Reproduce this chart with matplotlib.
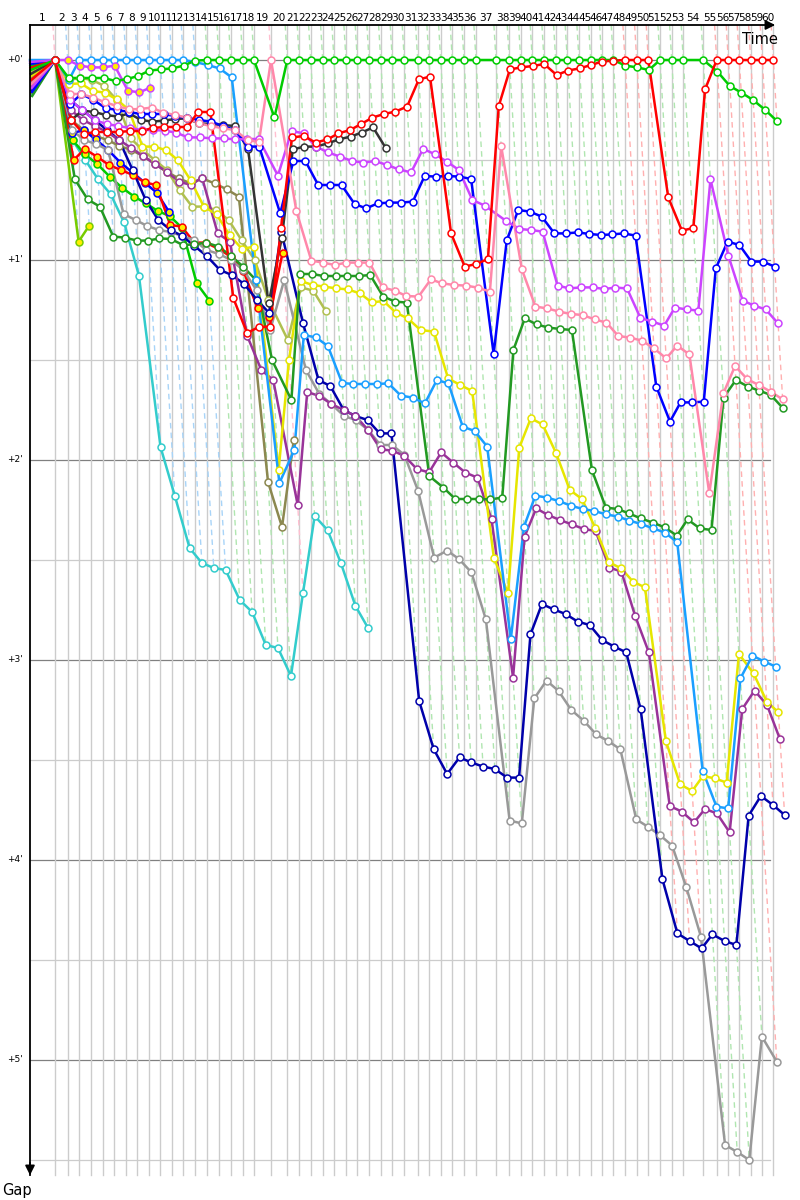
import numpy as np
import matplotlib
matplotlib.use('Agg')
import matplotlib.pyplot as plt

# leader lap times (s), laps 1..60
lap_sec = [125, 63.5, 58, 58.5, 58.5, 58, 58.5, 56.5, 57, 58, 57, 58, 58.5, 61.5, 58.5,
           58.5, 60, 56.5, 85, 81.5, 60, 57, 60, 56.5, 60, 56.5, 58.5, 58.5, 58, 60,
           67, 56.5, 58.5, 58, 58.5, 60, 100, 66.5, 57, 58, 58.5, 58.5, 58, 58.5, 58.5,
           55, 58, 58.5, 58.5, 58, 58.5, 58.5, 58, 100, 67, 58, 55, 57, 58, 55]

# who led each lap (colour of the lap line)
lap_leader = (['pink'] + ['lightblue'] * 12 + ['green'] * 5 + ['pink'] + ['green'] * 28
              + ['red'] * 3 + ['green'] * 4 + ['red'] * 6)

# gap to leader (minutes) per lap, lap 0 = start
red = [.10, 0, .30, .37, .36, .36, .36, .355, .355, .34, .335, .335, .335, .26, .26, 1.19, 1.365,
       1.335, 1.333, .84, .387, .38, .413, .397, .367, .35, .32, .288, .27, .258, .233, .097, .083,
       .867, 1.033, 1.02, .995, .23, .047, .037, .03, .02, .075, .053, .042, .025, .008, .003,
       0, 0, 0, .687, .853, .84, .147, 0, 0, 0, 0, 0, 0]
green = [.05, 0, .09, .09, .09, .09, .105, .095, .08, .053, .047, .042, .028, .003, 0, 0, 0, 0, 0,
         .287] + [0] * 28 + [.028, .037, .05, 0, 0, 0, 0, .058, .13, .163, .2, .25, .305]
lightblue = [0, 0, .1, 0, 0, 0, 0, 0, 0, 0, 0, 0, 0, .01, .025, .042, .087, 1.1, 2.115, 1.95,
             1.375, 1.387, 1.43, 1.615, 1.62, 1.62, 1.62, 1.617, 1.678, 1.688, 1.717, 1.6, 1.617,
             1.833, 1.855, 1.933, 2.897, 2.333, 2.178, 2.188, 2.205, 2.228, 2.245, 2.255, 2.272,
             2.283, 2.303, 2.32, 2.342, 2.363, 2.412, 3.553, 3.733, 3.742, 3.092, 2.978, 3.008, 3.033]
pink = [.12, 0, .17, .17, .188, .212, .23, .247, .245, .238, .263, .275, .288, .317, .33, .342, .35,
        .40, .41, 0, .755, 1.003, 1.013, 1.025, 1.013, 1.013, 1.013, 1.137, 1.153, 1.18, 1.183,
        1.097, 1.117, 1.125, 1.128, 1.138, 1.158, .43, 1.047, 1.233, 1.242, 1.258, 1.27, 1.275,
        1.297, 1.313, 1.38, 1.388, 1.403, 1.442, 1.492, 1.428, 1.472, 2.167, 1.667, 1.53, 1.597,
        1.625, 1.658, 1.697]
violet = [.14, 0, .2, .25, .3, .32, .33, .34, .35, .35, .353, .363, .387, .387, .392, .392, .397,
          .395, .395, .578, .355, .367, .433, .462, .483, .505, .513, .505, .525, .547, .562, .445,
          .47, .508, .55, .7, .728, .803, .845, .85, .858, 1.128, 1.142, 1.137, 1.137, 1.145, 1.138,
          1.142, 1.29, 1.308, 1.328, 1.238, 1.247, 1.253, .597, .98, 1.203, 1.228, 1.247, 1.317]
blue = [.16, 0, .22, .17, .2, .24, .25, .26, .27, .27, .27, .28, .29, .3, .308, .33, .35, .433, .433,
        .767, .505, .505, .625, .625, .625, .72, .742, .717, .713, .713, .708, .58, .583, .58, .583,
        .595, 1.47, .9, .75, .758, .783, .867, .867, .862, .87, .875, .872, .867, .878, 1.633, 1.808,
        1.712, 1.712, 1.708, 1.042, .908, .925, 1.008, 1.008, 1.033]
darkgreen = [.18, 0, .597, .697, .733, .883, .888, .903, .903, .892, .895, .925, .922, .913, .933,
             .978, 1.033, 1.1, 1.5, 1.7, 1.07, 1.07, 1.08, 1.08, 1.08, 1.08, 1.075, 1.183, 1.208,
             1.213, 2.08, 2.138, 2.195, 2.195, 2.195, 2.197, 2.188, 1.45, 1.292, 1.322, 1.338,
             1.345, 1.35, 2.05, 2.238, 2.245, 2.267, 2.292, 2.313, 2.337, 2.378, 2.297, 2.342,
             2.35, 1.688, 1.6, 1.633, 1.653, 1.675, 1.742]
yellow = [.08, 0, .12, .117, .155, .163, .197, .25, .433, .433, .45, .5, .6, .733, .772, .875, .945,
          .933, 2.05, 1.5, 1.105, 1.125, 1.133, 1.142, 1.147, 1.167, 1.212, 1.205, 1.263, 1.292,
          1.35, 1.358, 1.592, 1.625, 1.655, 2.488, 2.667, 1.938, 1.792, 1.822, 1.963, 2.15, 2.195,
          2.342, 2.512, 2.542, 2.608, 2.637, 3.405, 3.622, 3.655, 3.58, 3.592, 3.613, 2.97, 3.067,
          3.208, 3.262]
purple = [.13, 0, .25, .3, .33, .36, .4, .44, .48, .52, .56, .608, .625, .588, .867, .908, 1.38,
          1.55, 1.6, 2.225, 1.66, 1.68, 1.72, 1.75, 1.78, 1.85, 1.947, 1.953, 1.98, 2.045, 2.062,
          1.962, 2.013, 2.063, 2.088, 2.297, 3.088, 2.383, 2.242, 2.275, 2.3, 2.322, 2.345, 2.355,
          2.538, 2.558, 2.778, 2.962, 3.73, 3.758, 3.812, 3.745, 3.767, 3.862, 3.245, 3.153, 3.225,
          3.397]
navy = [.15, 0, .2, .25, .3, .35, .4, .55, .7, .8, .85, .88, .93, .98, 1.05, 1.075, 1.12, 1.2, 1.265,
        .858, 1.317, 1.6, 1.63, 1.75, 1.78, 1.8, 1.867, 1.867, 3.205, 3.445, 3.57, 3.487, 3.512,
        3.533, 3.545, 3.588, 3.588, 2.872, 2.72, 2.747, 2.77, 2.808, 2.825, 2.9, 2.933, 2.962,
        3.247, 4.097, 4.367, 4.405, 4.442, 4.372, 4.405, 4.425, 3.778, 3.68, 3.725, 3.775]
gray = [.11, 0, .35, .4, .42, .45, .77, .8, .83, .85, .86, .88, .9, .95, .97, 1.0, 1.05, 1.15, 1.35,
        1.1, 1.55, 1.67, 1.72, 1.78, 1.8, 1.85, 1.925, 1.925, 1.975, 2.155, 2.488, 2.453, 2.495,
        2.562, 2.797, 3.803, 3.817, 3.192, 3.103, 3.155, 3.25, 3.303, 3.372, 3.405, 3.447, 3.797,
        3.833, 3.875, 3.928, 4.137, 4.383, 5.425, 5.46, 5.5, 4.883, 5.008]
cyan = [.17, 0, .4, .5, .597, .672, .812, 1.078, 1.935, 2.18, 2.44, 2.515, 2.54, 2.55, 2.7, 2.76,
        2.925, 2.94, 3.08, 2.665, 2.28, 2.35, 2.515, 2.73, 2.84]
darkgray = [.07, 0, .3, .253, .26, .275, .283, .267, .3, .308, .303, .295, .292, .317, .32, .325,
            .33, .447, 1.217, .892, .447, .433, .433, .417, .397, .383, .363, .337, .442]
olive = [.09, 0, .3, .35, .38, .4, .43, .45, .48, .52, .56, .592, .617, .592, .617, .647, .683,
         2.11, 2.335, 1.9]
yellowgreen = [.06, 0, .1, .09, .1, .13, .2, .392, .45, .5, .55, .65, .733, .733, .75, .8, .9, 1.0,
               1.2, 1.4, 1.137, 1.153, 1.255]
redyellow = [.04, 0, .5, .445, .483, .525, .55, .575, .612, .625, .825, .833, .913, .913, .945,
             .983, 1.053, 1.242, 1.287, .963]
blueyellow = [.02, 0, .367, .35, .397, .45, .513, .563, .613, .663, .762]
greenyellow = [.03, 0, .4, .472, .52, .583, .638, .683, .717, .755, .78, .838, 1.117, 1.203]
limeyellow = [.165, 0, .908, .828]
violetyellow = [.01, 0, 0, .028, .037, .037, .028, .153, .162, .138]

drivers = [
    (cyan, '#33cccc', 'white'), (olive, '#8c8850', 'white'), (yellowgreen, '#b0c050', 'white'),
    (limeyellow, '#77cc00', '#ffee00'), (greenyellow, '#00cc00', '#ffee00'),
    (blueyellow, '#0000ff', '#ffee00'), (redyellow, '#ff0000', '#ffee00'),
    (gray, '#999999', 'white'), (navy, '#0000aa', 'white'), (purple, '#993399', 'white'),
    (yellow, '#e6e600', 'white'), (darkgreen, '#229922', 'white'), (darkgray, '#333333', 'white'),
    (lightblue, '#1a9fff', 'white'), (blue, '#0000ff', 'white'), (violet, '#cc44ff', 'white'),
    (pink, '#ff88aa', 'white'), (violetyellow, '#cc44ff', '#ffee00'),
    (green, '#00cc00', 'white'), (red, '#ff0000', 'white'),
]

lap_colors = {'pink': '#ffbfd0', 'lightblue': '#a8d4f8', 'green': '#b0e6b0', 'red': '#ffb0b0'}

T = np.concatenate([[0], np.cumsum(lap_sec) / 60.0])  # leader time at end of each lap (min)
n_laps = len(lap_sec)

fig = plt.figure(figsize=(8, 12), dpi=100)
ax = fig.add_axes([0, 0, 1, 1])
ax.set_axis_off()
# 12 px per minute on x, 200 px per minute of gap on y, origin at (30, 60) px
ax.set_xlim(-30 / 12, 770 / 12)
ax.set_ylim(1140 / 200, -60 / 200)

top = -35 / 200
bottom = 1115 / 200
right = 740 / 12

# horizontal grid
for g in np.arange(0.5, 5.51, 0.5):
    major = abs(g - round(g)) < 1e-6
    ax.plot([0, right], [g, g], color='#808080' if major else '#cccccc', lw=0.9, zorder=1)
ax.plot([0, right], [0, 0], color='#808080', lw=0.9, zorder=1)

# vertical lap lines
for k in range(1, n_laps + 1):
    ax.plot([T[k], T[k]], [top, bottom], color='#cccccc', lw=1.0, zorder=1)

# slanted lap lines: a car finishing lap k with gap g crosses at time T_k + g
for k in range(1, n_laps + 1):
    gaps = [d[k] for d, _, _ in drivers if len(d) > k]
    gmax = max(gaps)
    ax.plot([T[k] + top, T[k] + gmax], [top, gmax], color=lap_colors[lap_leader[k - 1]],
            lw=1.0, ls=(0, (4, 3)), zorder=2)

# driver lines
for data, col, face in drivers:
    g = np.array(data)
    x = T[:len(g)] + g
    ax.plot(x, g, color=col, lw=1.8, zorder=3, solid_joinstyle='round')
    ax.plot(x[1:], g[1:], 'o', ms=5, mfc=face, mec=col, mew=1.1, zorder=4)

# axes with arrows
ax.plot([0, right], [top, top], color='black', lw=1.3, zorder=5)
ax.annotate('', xy=(748 / 12, top), xytext=(738 / 12, top),
            arrowprops=dict(arrowstyle='-|>', color='black', lw=1.3, mutation_scale=14), zorder=5)
ax.plot([0, 0], [top, bottom], color='black', lw=1.3, zorder=5)
ax.annotate('', xy=(0, 1118 / 200), xytext=(0, 1100 / 200),
            arrowprops=dict(arrowstyle='-|>', color='black', lw=1.3, mutation_scale=14), zorder=5)

# lap numbers centred in each lap interval
for k in range(1, n_laps + 1):
    ax.text((T[k - 1] + T[k]) / 2, -42 / 200, str(k), ha='center', va='center',
            fontsize=7.6, color='black')

for m in range(6):
    ax.text(-15 / 12, m, "+%d'" % m, ha='center', va='center', fontsize=6.5, color='black')

ax.text(730 / 12, -20 / 200, 'Time', ha='center', va='center', fontsize=10.5)
ax.text(-13 / 12, 1130 / 200, 'Gap', ha='center', va='center', fontsize=10.5)

fig.savefig('out.png', dpi=100)
